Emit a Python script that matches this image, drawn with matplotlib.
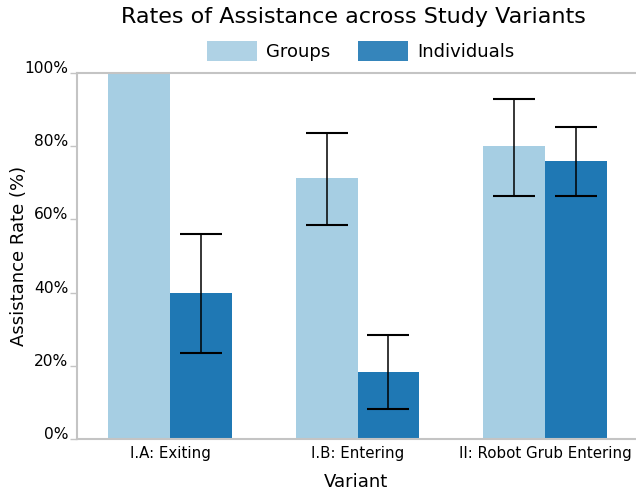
import numpy as np
import matplotlib
matplotlib.use("Agg")
import matplotlib.pyplot as plt
from matplotlib.patches import Patch

variants = ["I.A: Exiting", "I.B: Entering", "II: Robot Grub Entering"]
series = ["Groups", "Individuals"]
groups_rate = [100.0, 71.2, 80.0]
groups_low = [np.nan, 58.5, 66.3]
groups_high = [np.nan, 83.6, 93.0]
indiv_rate = [39.8, 18.3, 76.0]
indiv_low = [23.4, 8.2, 66.3]
indiv_high = [56.0, 28.4, 85.3]
yticks = [0, 20, 40, 60, 80, 100]
ytick_labels = ["0%", "20%", "40%", "60%", "80%", "100%"]

colors = ["#a6cee3", "#1f78b4"]
spine_color = "#c4c4c4"

fig = plt.figure(figsize=(6.36, 4.93), dpi=100)
ax = fig.add_axes([0.121, 0.1095, 0.879, 0.7425])

x = np.arange(len(variants))
w = 0.33

for off, vals, lo, hi, c in [(-w / 2, groups_rate, groups_low, groups_high, colors[0]),
                             (w / 2, indiv_rate, indiv_low, indiv_high, colors[1])]:
    vals = np.array(vals)
    lo = np.array(lo)
    hi = np.array(hi)
    ax.bar(x + off, vals, width=w, color=c, zorder=2)
    err = np.vstack([vals - lo, hi - vals])
    mask = ~np.isnan(lo)
    ax.errorbar((x + off)[mask], vals[mask], yerr=err[:, mask], fmt="none",
                ecolor="black", elinewidth=1.1, capsize=15, capthick=1.5,
                zorder=3)

ax.set_xlim(-0.496, 2.485)
ax.set_ylim(0, 100)
ax.set_xticks(x)
ax.set_xticklabels(variants, fontsize=10.8)
ax.tick_params(axis="x", length=0, pad=5)
ax.set_yticks(yticks)
ax.set_yticklabels(ytick_labels, fontsize=11.2)
ax.tick_params(axis="y", length=5, width=1, color=spine_color, pad=1)
for lbl in ax.get_yticklabels():
    lbl.set_verticalalignment("baseline")

for side in ["left", "bottom", "top"]:
    ax.spines[side].set_color(spine_color)
    ax.spines[side].set_linewidth(1.5)
ax.spines["right"].set_visible(False)

ax.set_xlabel("Variant", fontsize=13, labelpad=9)
ax.set_ylabel("Assistance Rate (%)", fontsize=13)
ax.yaxis.set_label_coords(-0.088, 0.5)

fig.text(0.556, 0.965, "Rates of Assistance across Study Variants",
         ha="center", va="center", fontsize=16)

handles = [Patch(facecolor=colors[0], alpha=0.9), Patch(facecolor=colors[1], alpha=0.9)]
fig.legend(handles, series, loc="center", bbox_to_anchor=(0.567, 0.896),
           ncol=2, frameon=False, fontsize=13, handlelength=2.8,
           handleheight=1.3, handletextpad=0.5, columnspacing=1.5)

fig.savefig("out.png", dpi=100)
